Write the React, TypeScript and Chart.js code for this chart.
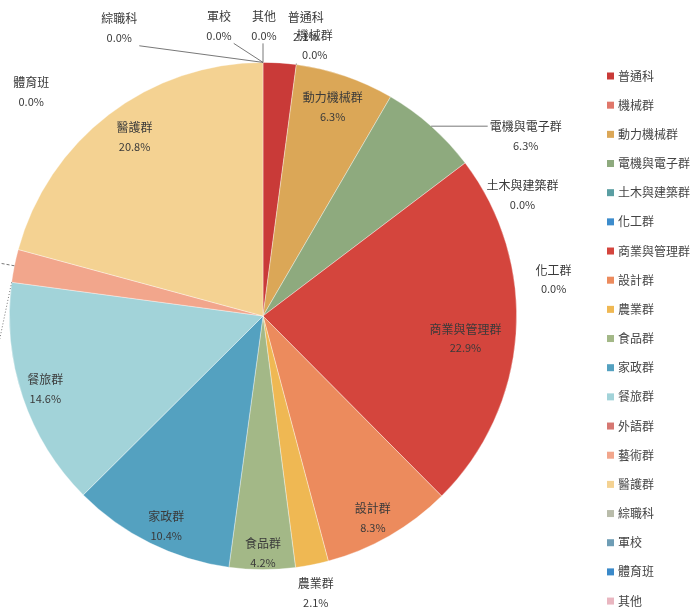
import React, { useEffect, useRef } from "react";
import { Chart, registerables } from "chart.js";

Chart.register(...registerables);

const categories = [
  "普通科", "機械群", "動力機械群", "電機與電子群", "土木與建築群", "化工群",
  "商業與管理群", "設計群", "農業群", "食品群", "家政群", "餐旅群",
  "外語群", "藝術群", "醫護群", "綜職科", "軍校", "體育班", "其他",
];
const values = [2.1, 0, 6.3, 6.3, 0, 0, 22.9, 8.3, 2.1, 4.2, 10.4, 14.6, 0, 2.1, 20.8, 0, 0, 0, 0];
const valueLabels = values.map((v) => v.toFixed(1) + "%");
const colors = [
  "#c93a38", "#e0776a", "#dba757", "#8eaa7e", "#5a9ea2", "#3d8ccc",
  "#d4453d", "#ec8b5d", "#efb853", "#a3b887", "#54a1c0", "#a2d3d9",
  "#d67772", "#f2a68c", "#f4d292", "#b9bcaa", "#6e9db5", "#3a89c9", "#e9b6c0",
];

// label placement: angle (deg, clockwise from 12 o'clock) and radius factor, relative to pie
const placements: { a: number; r: number; line?: number[] | null }[] = [
  { a: 8.4, r: 1.154 },
  { a: 10.8, r: 1.09, line: [1, 2] },
  { a: 18.4, r: 0.87 },
  { a: 55.5, r: 1.257, line: [] },
  { a: 64.9, r: 1.13 },
  { a: 82.8, r: 1.155 },
  { a: 96.2, r: 0.803 },
  { a: 151.4, r: 0.905 },
  { a: 169.2, r: 1.11 },
  { a: 180, r: 0.933 },
  { a: 204.8, r: 0.91 },
  { a: 251.5, r: 0.905 },
  { a: 258.8, r: 1.152, line: [1, 2] },
  { a: 283.6, r: 1.3, line: [3, 2] },
  { a: 324.4, r: 0.87 },
  { a: -26.5, r: 1.27, line: [] },
  { a: -8.6, r: 1.159, line: [] },
  { a: -45.9, r: 1.273 },
  { a: 0.2, r: 1.146, line: [] },
];

const FONT = '"Noto Sans CJK TC", "Noto Sans", sans-serif';

const labelPlugin = {
  id: "customLabels",
  afterDatasetsDraw(chart: any) {
    const ctx: CanvasRenderingContext2D = chart.ctx;
    const meta = chart.getDatasetMeta(0);
    const a0: any = meta.data[0];
    const cx = a0.x, cy = a0.y, R = a0.outerRadius;
    ctx.save();
    meta.data.forEach((arc: any, i: number) => {
      const p = placements[i];
      const rad = (p.a * Math.PI) / 180;
      const lx = cx + R * p.r * Math.sin(rad);
      const ly = cy - R * p.r * Math.cos(rad);
      ctx.font = "12px " + FONT;
      const w1 = ctx.measureText(categories[i]).width;
      ctx.font = "11px " + FONT;
      const w2 = ctx.measureText(valueLabels[i]).width;
      const w = Math.max(w1, w2);
      if (p.line) {
        const mid = (arc.startAngle + arc.endAngle) / 2;
        const ex = cx + R * Math.cos(mid);
        const ey = cy + R * Math.sin(mid);
        const bx0 = lx - w / 2 - 2, bx1 = lx + w / 2 + 2;
        const by0 = ly - 18, by1 = ly + 18;
        const tx = Math.min(Math.max(ex, bx0), bx1);
        const ty = Math.min(Math.max(ey, by0), by1);
        ctx.beginPath();
        ctx.setLineDash(p.line);
        ctx.strokeStyle = "#555";
        ctx.lineWidth = 0.8;
        ctx.moveTo(ex, ey);
        ctx.lineTo(tx, ty);
        ctx.stroke();
        ctx.setLineDash([]);
      }
      ctx.fillStyle = "#3a3a3a";
      ctx.textAlign = "center";
      ctx.textBaseline = "middle";
      ctx.font = "12px " + FONT;
      ctx.fillText(categories[i], lx, ly - 9);
      ctx.font = "11px " + FONT;
      ctx.fillText(valueLabels[i], lx, ly + 10);
    });

    // legend
    const legX = 607;
    const legY0 = 76;
    const step = 29.17;
    categories.forEach((c, i) => {
      const y = legY0 + i * step;
      ctx.fillStyle = colors[i];
      ctx.fillRect(legX, y - 3.5, 7, 7);
      ctx.fillStyle = "#444";
      ctx.textAlign = "left";
      ctx.textBaseline = "middle";
      ctx.font = "12px " + FONT;
      ctx.fillText(c, legX + 11, y);
    });
    ctx.restore();
  },
};

export default function App() {
  const ref = useRef<HTMLCanvasElement | null>(null);
  useEffect(() => {
    document.body.style.margin = "0";
    const canvas = ref.current!;
    const chart = new Chart(canvas, {
      type: "pie",
      data: {
        labels: categories,
        datasets: [
          {
            data: values,
            backgroundColor: colors,
            borderColor: "rgba(255,255,255,0.45)",
            borderWidth: values.map((v) => (v > 0 ? 0.8 : 0)),
          },
        ],
      },
      options: {
        animation: false,
        responsive: false,
        maintainAspectRatio: false,
        events: [],
        layout: { padding: { left: 9, top: 62, right: 180, bottom: 40 } },
        plugins: {
          legend: { display: false },
          tooltip: { enabled: false },
        },
      },
      plugins: [labelPlugin],
    });
    return () => chart.destroy();
  }, []);
  return (
    <div style={{ width: 697, height: 610, background: "#fff" }}>
      <canvas ref={ref} width={697} height={610} style={{ display: "block" }} />
    </div>
  );
}
